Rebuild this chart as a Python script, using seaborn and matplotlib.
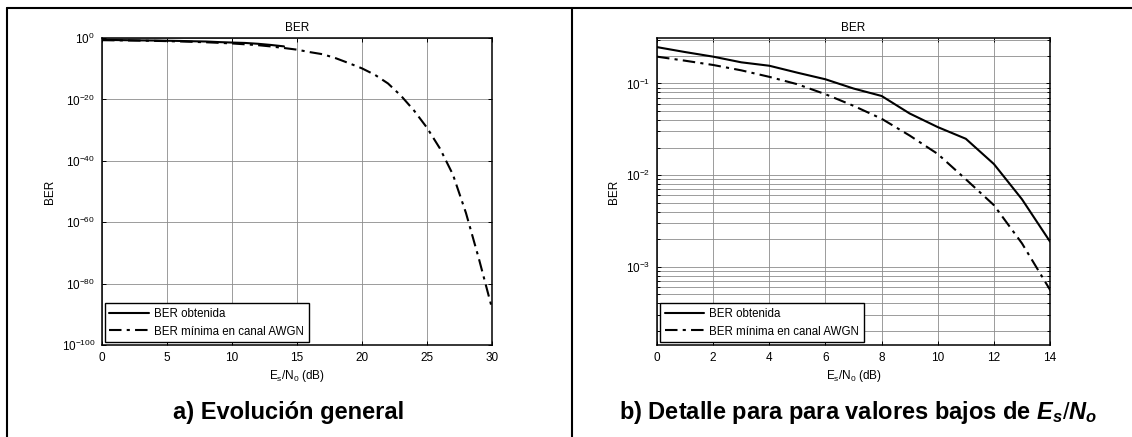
import pandas as pd
import matplotlib.pyplot as plt
import seaborn as sns
from matplotlib.lines import Line2D
from matplotlib.ticker import FixedLocator, NullLocator, NullFormatter, LogLocator

# BER obtenida (simulated), 0..14 dB
snr_obt = list(range(15))
ber_obt = [0.249, 0.22, 0.196, 0.170, 0.156, 0.131, 0.111, 0.088, 0.073,
           0.047, 0.0334, 0.0249, 0.0132, 0.00545, 0.00188]

# BER minima en canal AWGN, 0..30 dB
snr_awgn = list(range(31))
ber_awgn = [0.196, 0.177, 0.159, 0.139, 0.118, 0.098, 0.0763, 0.057, 0.0412,
            0.027, 0.017, 0.0090, 0.0047, 0.0018, 5.6e-4, 1.6e-4, 2.5e-5,
            5e-6, 2.5e-7, 6.3e-9, 1.3e-10, 1e-12, 1.6e-15, 1.6e-19, 2.5e-24,
            6e-30, 1e-36, 3e-45, 1e-57, 1e-72, 1e-88]

left_yticks = [1e0, 1e-20, 1e-40, 1e-60, 1e-80, 1e-100]
left_xticks = [0, 5, 10, 15, 20, 25, 30]
right_xticks = [0, 2, 4, 6, 8, 10, 12, 14]

df_obt = pd.DataFrame({'snr': snr_obt, 'ber': ber_obt})
df_awgn = pd.DataFrame({'snr': snr_awgn, 'ber': ber_awgn})

sns.set_theme(style='ticks')
plt.rcParams['font.family'] = ['Liberation Sans', 'DejaVu Sans']
plt.rcParams['mathtext.fontset'] = 'custom'
plt.rcParams['mathtext.rm'] = 'Liberation Sans'
plt.rcParams['mathtext.it'] = 'Liberation Sans:italic:bold'
plt.rcParams['mathtext.bf'] = 'Liberation Sans:bold'
plt.rcParams['axes.unicode_minus'] = False
plt.rcParams['text.color'] = 'black'
plt.rcParams['axes.labelcolor'] = 'black'

fig = plt.figure(figsize=(11.32, 4.37), dpi=100)
ax1 = fig.add_axes([0.0901, 0.2105, 0.3445, 0.7025])
ax2 = fig.add_axes([0.5804, 0.2105, 0.3472, 0.7025])

dashdot = (0, (6, 2.5, 1.5, 2.5))
grid_kw = dict(color='#8c8c8c', linewidth=0.6)

for ax in (ax1, ax2):
    sns.lineplot(data=df_obt, x='snr', y='ber', ax=ax, color='black',
                 linewidth=1.5, label='BER obtenida')
    sns.lineplot(data=df_awgn, x='snr', y='ber', ax=ax, color='black',
                 linewidth=1.5, linestyle=dashdot,
                 label='BER mínima en canal AWGN')
    ax.set_yscale('log')
    ax.set_title('BER', fontsize=8.5, pad=5)
    ax.set_xlabel(r'E$_\mathrm{s}$/N$_\mathrm{0}$ (dB)', fontsize=8.5, labelpad=3)
    ax.set_ylabel('BER', fontsize=8.5)
    ax.tick_params(which='both', direction='in', top=True, right=True,
                   labelsize=8.5, width=0.7, colors='black', pad=5)
    ax.tick_params(which='major', length=3)
    ax.tick_params(which='minor', length=2)
    for s in ax.spines.values():
        s.set_color('black')
        s.set_linewidth(1.1)
    leg = ax.legend(loc='lower left', fontsize=8.3, fancybox=False,
                    edgecolor='black', framealpha=1, handlelength=3.4,
                    borderaxespad=0.25, borderpad=0.4, labelspacing=0.5,
                    handletextpad=0.5)
    leg.get_frame().set_linewidth(1.0)

# a) general view
ax1.set_xlim(0, 30)
ax1.set_ylim(1e-100, 1e0)
ax1.set_xticks(left_xticks)
ax1.yaxis.set_major_locator(FixedLocator(left_yticks))
ax1.yaxis.set_minor_locator(NullLocator())
ax1.grid(True, which='major', **grid_kw)

# b) detail for low Es/N0
ax2.set_xlim(0, 14)
ax2.set_ylim(1.4e-4, 0.313)
ax2.set_xticks(right_xticks)
ax2.yaxis.set_major_locator(LogLocator(base=10))
ax2.yaxis.set_minor_locator(LogLocator(base=10, subs=range(2, 10)))
ax2.yaxis.set_minor_formatter(NullFormatter())
ax2.grid(True, which='both', axis='y', **grid_kw)
ax2.grid(True, which='major', axis='x', **grid_kw)

# captions
fig.text(0.2553, 0.055, 'a) Evolución general', ha='center', va='center',
         fontsize=17, fontweight='bold')
fig.text(0.758, 0.055, r'b) Detalle para para valores bajos de $\mathit{E_s/N_o}$',
         ha='center', va='center', fontsize=17, fontweight='bold')

# table frame
frame_kw = dict(color='black', linewidth=1.5, transform=fig.transFigure)
fig.add_artist(Line2D([0.0062, 1.0], [0.9817, 0.9817], **frame_kw))
fig.add_artist(Line2D([0.0062, 0.0062], [0.0, 0.9817], **frame_kw))
fig.add_artist(Line2D([0.5053, 0.5053], [0.0, 0.9817], **frame_kw))

fig.savefig('out.png', dpi=100)
